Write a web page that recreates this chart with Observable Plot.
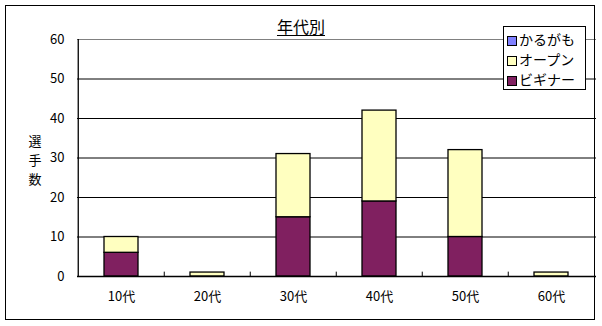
<!DOCTYPE html>
<html><head><meta charset="utf-8">
<script src="https://cdn.jsdelivr.net/npm/d3@7"></script>
<script src="https://cdn.jsdelivr.net/npm/@observablehq/plot@0.6"></script>
<style>
html,body{margin:0;padding:0;background:#fff;}
body{font-family:"MS PGothic","Noto Sans CJK JP",sans-serif;}
#wrap{position:relative;width:602px;height:326px;overflow:hidden;}
#frame{position:absolute;left:5px;top:5px;width:590px;height:315px;border:1px solid #000;box-sizing:border-box;pointer-events:none;}
#title{position:absolute;left:0;width:602px;top:14px;text-align:center;font-size:16px;}
#title span{text-decoration:underline;text-underline-offset:2px;}
.ych{position:absolute;left:26px;width:18px;height:19px;font-size:13px;line-height:19px;text-align:center;}
#legend{position:absolute;left:503px;top:26px;width:83px;height:64px;box-sizing:border-box;border:1px solid #000;background:#fff;font-size:14px;}
#legend div{position:absolute;left:3px;height:20px;line-height:20px;white-space:nowrap;}
#legend i{display:inline-block;width:8px;height:8px;border:1px solid #000;margin-right:2px;vertical-align:-1px;}
</style></head>
<body><div id="wrap"></div>
<script>
const ages = ["10代","20代","30代","40代","50代","60代"];
const seriesNames = ["かるがも","オープン","ビギナー"];
const seriesColors = ["#8080FF","#FFFFC0","#802060"];
const beginner = [6,0,15,19,10,0];
const open = [4,1,16,23,22,1];
const karugamo = [0,0,0,0,0,0];
const yTicks = [0,10,20,30,40,50,60];
const title = "年代別";
const yLabel = "選手数";

const data = [];
ages.forEach((a,i)=>{
  data.push({age:a, series:"ビギナー", count:beginner[i]});
  data.push({age:a, series:"オープン", count:open[i]});
  data.push({age:a, series:"かるがも", count:karugamo[i]});
});

const W = 602, H = 326, mL = 77, mR = 6, mT = 39, mB = 50;
const step = (W - mL - mR) / ages.length;

const chart = Plot.plot({
  width: W, height: H,
  marginLeft: mL, marginRight: mR, marginTop: mT, marginBottom: mB,
  style: {fontFamily: '"MS PGothic","Noto Sans CJK JP",sans-serif', fontSize: "13px", background: "transparent", color: "#000"},
  x: {domain: ages, paddingInner: 0.6, paddingOuter: 0.3, label: null},
  y: {domain: [0,60], label: null},
  color: {domain: seriesNames, range: seriesColors},
  marks: [
    Plot.ruleY(yTicks.filter(t => t > 0 && t < 60), {stroke: "#000", strokeWidth: 1}),
    Plot.ruleY([60], {stroke: "#808080", strokeWidth: 1}),
    Plot.barY(data, {x: "age", y: "count", fill: "series", stroke: "#000", strokeWidth: 1.3, filter: d => d.count > 0}),
    Plot.ruleY([0], {stroke: "#000", strokeWidth: 1.3}),
    Plot.ruleX([ages[0]], {dx: -step/2, stroke: "#000", strokeWidth: 1.3}),
    Plot.ruleX(ages.slice(1), {dx: -step/2, y1: 0, y2: 1.1, stroke: "#000"}),
    Plot.axisY({ticks: yTicks, tickSize: 0, tickPadding: 13, fontSize: 13}),
    Plot.axisX({tickSize: 0, tickPadding: 15, fontSize: 13})
  ]
});

const wrap = document.getElementById("wrap");
wrap.appendChild(chart);
chart.style.position = "absolute"; chart.style.left = "0"; chart.style.top = "0";

const fr = document.createElement("div"); fr.id = "frame"; wrap.appendChild(fr);
const t = document.createElement("div"); t.id = "title"; t.innerHTML = "<span>" + title + "</span>"; wrap.appendChild(t);
yLabel.split("").forEach((c,i)=>{
  const d = document.createElement("div"); d.className = "ych";
  d.style.top = (131 + i*19) + "px"; d.textContent = c; wrap.appendChild(d);
});
const lg = document.createElement("div"); lg.id = "legend";
seriesNames.forEach((n,i)=>{
  const r = document.createElement("div");
  r.style.top = (2 + i*20) + "px";
  r.innerHTML = '<i style="background:' + seriesColors[i] + '"></i>' + n;
  lg.appendChild(r);
});
wrap.appendChild(lg);
</script></body></html>
